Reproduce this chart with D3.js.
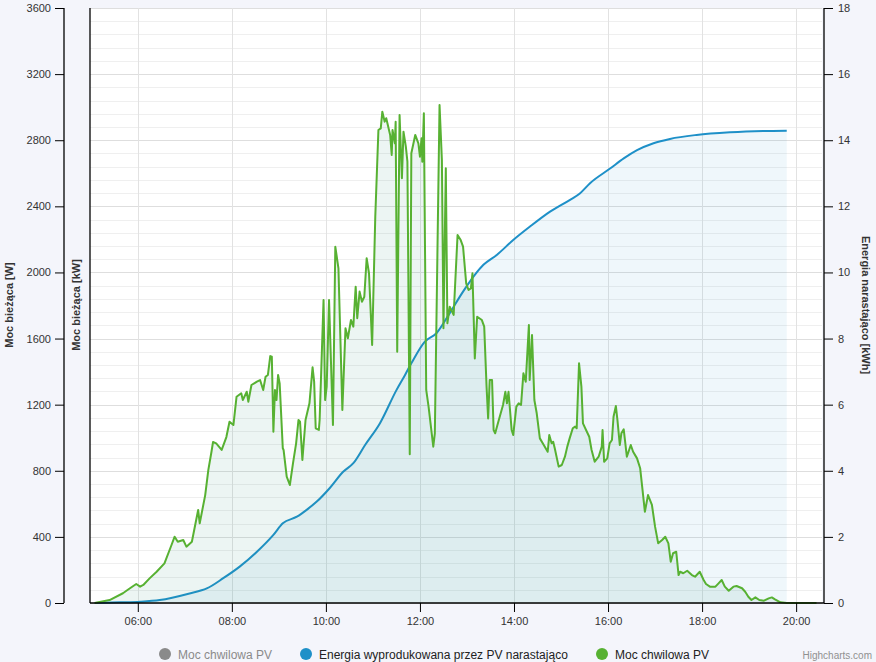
<!DOCTYPE html>
<html><head><meta charset="utf-8">
<script src="https://cdn.jsdelivr.net/npm/d3@7/dist/d3.min.js"></script>
<style>
html,body{margin:0;padding:0;background:#f4f5fb;}
svg{display:block;font-family:"Liberation Sans",Arial,sans-serif;}
</style></head>
<body>
<svg id="chart" width="876" height="662"></svg>
<script>
// ---- data ----
const powerData = [["05:05",0],["05:24",18],["05:41",59],["05:50",89],["05:58",115],["06:03",99],["06:07",109],["06:15",149],["06:24",189],["06:34",240],["06:43",351],["06:47",401],["06:51",371],["06:58",381],["07:02",341],["07:09",371],["07:17",563],["07:19",482],["07:26",653],["07:30",805],["07:34",915],["07:36",974],["07:40",966],["07:47",926],["07:53",1004],["07:57",1097],["08:02",1077],["08:06",1248],["08:12",1269],["08:14",1228],["08:19",1278],["08:21",1218],["08:25",1319],["08:32",1339],["08:36",1349],["08:40",1289],["08:43",1369],["08:46",1380],["08:49",1494],["08:51",1490],["08:53",1036],["08:55",1289],["08:57",1228],["08:59",1380],["09:01",1329],["09:05",936],["09:06",926],["09:10",764],["09:14",714],["09:18",845],["09:22",966],["09:25",1107],["09:27",1097],["09:30",865],["09:34",1107],["09:39",1208],["09:43",1426],["09:45",1339],["09:47",1057],["09:51",1047],["09:52",1107],["09:57",1833],["09:59",1228],["10:01",1309],["10:04",1833],["10:09",1077],["10:12",2156],["10:16",2025],["10:21",1168],["10:25",1662],["10:28",1602],["10:32",1712],["10:35",1672],["10:38",1914],["10:40",1723],["10:43",1884],["10:46",1823],["10:49",1853],["10:52",2086],["10:55",1995],["10:59",1561],["11:03",2337],["11:07",2862],["11:10",2872],["11:12",2973],["11:15",2912],["11:17",2933],["11:22",2832],["11:24",2711],["11:25",2862],["11:28",2781],["11:29",2912],["11:31",1520],["11:34",2953],["11:37",2570],["11:39",2852],["11:42",2761],["11:44",2670],["11:47",900],["11:49",2721],["11:54",2832],["11:58",2781],["12:00",2700],["12:02",2812],["12:03",2670],["12:05",2963],["12:08",1289],["12:11",1188],["12:17",946],["12:19",1027],["12:25",3013],["12:28",2680],["12:30",1662],["12:33",2630],["12:35",1692],["12:38",1793],["12:43",1743],["12:48",2227],["12:52",2196],["12:55",2156],["12:59",1934],["13:02",1894],["13:05",1904],["13:07",1995],["13:10",1480],["13:13",1732],["13:19",1712],["13:22",1672],["13:25",1309],["13:27",1117],["13:29",1349],["13:32",1349],["13:34",1047],["13:36",1027],["13:40",1097],["13:46",1198],["13:49",1278],["13:51",1208],["13:53",1278],["13:57",1047],["13:59",1016],["14:03",1188],["14:06",1208],["14:09",1198],["14:12",1390],["14:15",1339],["14:19",1682],["14:20",1349],["14:23",1621],["14:26",1228],["14:29",1148],["14:33",996],["14:38",956],["14:43",915],["14:45",1016],["14:48",966],["14:50",976],["14:52",936],["14:57",825],["15:01",835],["15:05",885],["15:08",946],["15:11",996],["15:15",1057],["15:18",1067],["15:20",1057],["15:23",1450],["15:26",1309],["15:28",1087],["15:33",1036],["15:36",1006],["15:39",926],["15:43",855],["15:48",885],["15:52",946],["15:53",1047],["15:55",855],["15:59",875],["16:02",966],["16:05",986],["16:07",1127],["16:10",1192],["16:12",1107],["16:15",956],["16:17",1027],["16:20",1051],["16:24",885],["16:29",956],["16:32",915],["16:37",875],["16:41",815],["16:44",684],["16:47",552],["16:51",653],["16:56",593],["17:00",462],["17:04",361],["17:09",381],["17:13",401],["17:17",361],["17:20",250],["17:23",301],["17:27",310],["17:30",169],["17:32",189],["17:36",180],["17:41",195],["17:47",169],["17:51",159],["17:57",189],["18:02",139],["18:05",115],["18:10",99],["18:17",99],["18:21",119],["18:25",139],["18:29",99],["18:34",74],["18:40",99],["18:44",103],["18:51",89],["18:55",68],["18:59",38],["19:03",18],["19:08",34],["19:13",18],["19:19",14],["19:25",28],["19:29",34],["19:33",22],["19:40",4],["19:48",0],["20:26",0]];

const energyData = [["05:05",0],["05:37",0.02],["06:03",0.04],["06:28",0.09],["07:06",0.29],["07:28",0.44],["07:49",0.75],["08:10",1.10],["08:32",1.55],["08:53",2.06],["09:05",2.41],["09:23",2.61],["09:35",2.81],["09:48",3.06],["10:05",3.48],["10:22",3.97],["10:35",4.23],["10:50",4.78],["11:09",5.44],["11:30",6.44],["11:41",6.90],["11:49",7.25],["12:06",7.90],["12:21",8.16],["12:38",8.77],["12:55",9.42],["13:21",10.23],["13:38",10.53],["13:59",10.98],["14:20",11.38],["14:46",11.84],["15:11",12.19],["15:24",12.39],["15:37",12.70],["16:03",13.15],["16:20",13.45],["16:37",13.70],["16:58",13.91],["17:19",14.04],["17:53",14.16],["18:36",14.24],["19:18",14.28],["19:48",14.29]];

const xDomain = ["04:59","20:33"];
const xTickLabels = ["06:00","08:00","10:00","12:00","14:00","16:00","18:00","20:00"];
const powerTicks = [0,400,800,1200,1600,2000,2400,2800,3200,3600];
const energyTicks = [0,2,4,6,8,10,12,14,16,18];
const legendLabels = ["Moc chwilowa PV","Energia wyprodukowana przez PV narastająco","Moc chwilowa PV"];

// ---- chart ----
const svg = d3.select("#chart");
const M = {left:90, top:8, right:822, bottom:603};
const parse = d3.timeParse("%H:%M");
const x = d3.scaleTime().domain(xDomain.map(parse)).range([M.left, M.right]);
const yW = d3.scaleLinear().domain([0,3600]).range([M.bottom, M.top]);
const yE = d3.scaleLinear().domain([0,18]).range([M.bottom, M.top]);

svg.append("rect").attr("x",M.left).attr("y",M.top).attr("width",M.right-M.left).attr("height",M.bottom-M.top).attr("fill","#fff");

// grid
const g = svg.append("g");
const minor = d3.range(0,3601,80).filter(v=>v%400!==0);
g.selectAll(".mn").data(minor).join("line")
  .attr("x1",M.left).attr("x2",M.right).attr("y1",d=>Math.round(yW(d))+0.5).attr("y2",d=>Math.round(yW(d))+0.5)
  .attr("stroke","#efefef");
g.selectAll(".mj").data(powerTicks).join("line")
  .attr("x1",M.left).attr("x2",M.right).attr("y1",d=>Math.round(yW(d))+0.5).attr("y2",d=>Math.round(yW(d))+0.5)
  .attr("stroke","#dedede");
g.selectAll(".vg").data(xTickLabels).join("line")
  .attr("x1",d=>Math.round(x(parse(d)))+0.5).attr("x2",d=>Math.round(x(parse(d)))+0.5)
  .attr("y1",M.top).attr("y2",M.bottom).attr("stroke","#e2e2e2");

// series
const eData = energyData.map(d=>({t:parse(d[0]),v:d[1]}));
const pData = powerData.map(d=>({t:parse(d[0]),v:d[1]}));
const eArea = d3.area().x(d=>x(d.t)).y0(M.bottom).y1(d=>yE(d.v)).curve(d3.curveMonotoneX);
const eLine = d3.line().x(d=>x(d.t)).y(d=>yE(d.v)).curve(d3.curveMonotoneX);
const pArea = d3.area().x(d=>x(d.t)).y0(M.bottom).y1(d=>yW(d.v));
const pLine = d3.line().x(d=>x(d.t)).y(d=>yW(d.v));

svg.append("path").attr("d",eArea(eData)).attr("fill","rgba(30,140,200,0.07)");
svg.append("path").attr("d",eLine(eData)).attr("fill","none").attr("stroke","#1e90c8").attr("stroke-width",2);
svg.append("path").attr("d",pArea(pData)).attr("fill","rgba(40,140,125,0.09)");
svg.append("path").attr("d",pLine(pData)).attr("fill","none").attr("stroke","#57b132").attr("stroke-width",2).attr("stroke-linejoin","round");

// axes lines
const ax = svg.append("g").attr("stroke","#000").attr("stroke-width",1.3);
ax.append("line").attr("x1",M.left).attr("x2",M.left).attr("y1",M.top).attr("y2",M.bottom);
ax.append("line").attr("x1",M.left).attr("x2",M.right+2).attr("y1",M.bottom).attr("y2",M.bottom);
ax.append("line").attr("x1",824).attr("x2",824).attr("y1",M.top).attr("y2",M.bottom);
ax.append("line").attr("x1",64).attr("x2",64).attr("y1",M.top).attr("y2",M.bottom);

const styleText = sel => sel.selectAll("text").attr("font-size","11px").attr("fill","#333").attr("font-family","Liberation Sans, Arial, sans-serif");

// left outer axis (W)
const leftAxis = d3.axisLeft(yW).tickValues(powerTicks).tickFormat(d3.format("d")).tickSize(9).tickPadding(4);
const la = svg.append("g").attr("transform","translate(64,0)").call(leftAxis);
la.select(".domain").remove();
la.selectAll("line").attr("stroke","#000");
styleText(la);

// right axis (kWh)
const rightAxis = d3.axisRight(yE).tickValues(energyTicks).tickFormat(d3.format("d")).tickSize(9).tickPadding(5);
const ra = svg.append("g").attr("transform","translate(824,0)").call(rightAxis);
ra.select(".domain").remove();
ra.selectAll("line").attr("stroke","#000");
styleText(ra);

// bottom axis
const bottomAxis = d3.axisBottom(x).tickValues(xTickLabels.map(parse)).tickFormat(d3.timeFormat("%H:%M")).tickSize(9).tickPadding(5);
const ba = svg.append("g").attr("transform",`translate(0,${M.bottom})`).call(bottomAxis);
ba.select(".domain").remove();
ba.selectAll("line").attr("stroke","#000");
styleText(ba);

// axis titles
const tt = (xx,yy,rot,txt)=>svg.append("text").attr("transform",`translate(${xx},${yy}) rotate(${rot})`)
  .attr("text-anchor","middle").attr("font-size","11px").attr("font-weight","bold").attr("fill","#333").text(txt);
tt(13,305,-90,"Moc bieżąca [W]");
tt(80,305,-90,"Moc bieżąca [kW]");
tt(862,305,90,"Energia narastająco [kWh]");

// legend
const legend = [
  {cx:165, tx:178, color:"#8a8a8a", text:legendLabels[0], tcol:"#8a8a8a"},
  {cx:306, tx:319, color:"#1e90c8", text:legendLabels[1], tcol:"#222"},
  {cx:602, tx:615, color:"#57b132", text:legendLabels[2], tcol:"#222"}
];
const lg = svg.append("g");
legend.forEach(l=>{
  lg.append("circle").attr("cx",l.cx).attr("cy",654).attr("r",6).attr("fill",l.color);
  lg.append("text").attr("x",l.tx).attr("y",658.5).attr("font-size","12px").attr("fill",l.tcol).text(l.text);
});
svg.append("text").attr("x",872).attr("y",659).attr("text-anchor","end").attr("font-size","10px").attr("fill","#909090").text("Highcharts.com");
</script>
</body></html>
